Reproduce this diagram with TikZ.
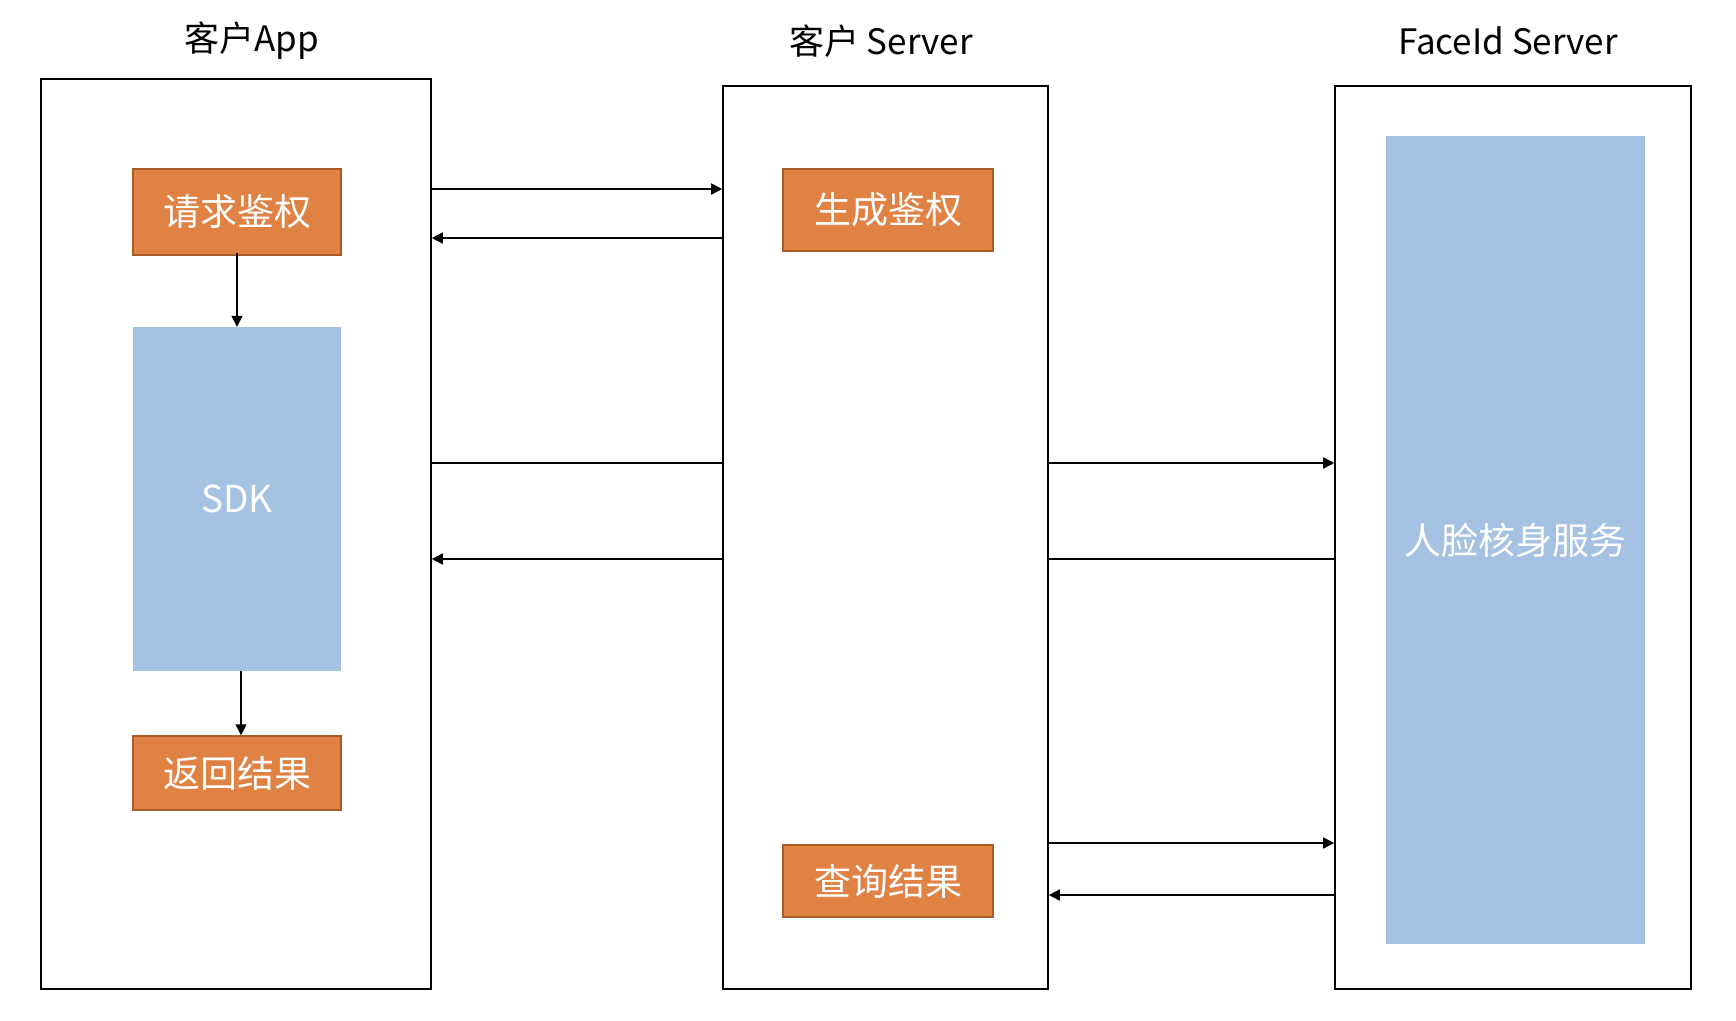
\documentclass[tikz,border=0pt]{standalone}
\usepackage{fontspec}
\setmainfont{Noto Sans CJK SC}
\usetikzlibrary{arrows.meta}
\definecolor{boxorange}{RGB}{224,130,68}
\definecolor{boxedge}{RGB}{170,92,40}
\definecolor{boxblue}{RGB}{165,194,226}
\begin{document}
\begin{tikzpicture}[x=1pt,y=-1pt,
  every node/.style={inner sep=0pt},
  lane/.style={draw, line width=1.6pt, fill=white},
  title/.style={font=\fontsize{35}{35}\selectfont},
  stepbox/.style={draw=boxedge, line width=1.5pt, fill=boxorange, text=white, font=\fontsize{37}{37}\selectfont},
  service/.style={fill=boxblue, text=white, font=\fontsize{37}{37}\selectfont},
  msg/.style={line width=1.6pt, -{Triangle[length=11pt,width=11pt]}},
  wire/.style={line width=1.6pt}]
\useasboundingbox (0,0) rectangle (1736,1020);
% columns
\node[lane, minimum width=390pt, minimum height=910pt] (app) at (236,534) {};
\node[lane, minimum width=325pt, minimum height=903pt] (srv) at (885.5,537.5) {};
\node[lane, minimum width=356pt, minimum height=903pt] (fid) at (1513,537.5) {};
\node[title] (tapp) at (252,41) {客户App};
\node[title] (tsrv) at (881,41) {客户 Server};
\node[title] (tfid) at (1508,41) {FaceId Server};
% boxes
\node[stepbox, minimum width=208pt, minimum height=86pt] (req) at (237,212) {请求鉴权};
\node[service, minimum width=208pt, minimum height=344pt] (sdk) at (237,499) {SDK};
\node[stepbox, minimum width=208pt, minimum height=74pt] (ret) at (237,773) {返回结果};
\node[stepbox, minimum width=210pt, minimum height=82pt] (gen) at (888,210) {生成鉴权};
\node[stepbox, minimum width=210pt, minimum height=72pt] (qry) at (888,881) {查询结果};
\node[service, minimum width=259pt, minimum height=808pt] (face) at (1515.5,540) {人脸核身服务};
% message levels
\coordinate (m1) at (0,189);
\coordinate (m2) at (0,238);
\coordinate (m3) at (0,463);
\coordinate (m4) at (0,559);
\coordinate (m5) at (0,843);
\coordinate (m6) at (0,895);
% app <-> server
\draw[msg] (app.east |- m1) -- (srv.west |- m1);
\draw[msg] (srv.west |- m2) -- (app.east |- m2);
\draw[wire] (app.east |- m3) -- (srv.west |- m3);
\draw[msg] (srv.west |- m4) -- (app.east |- m4);
% server <-> faceid
\draw[msg] (srv.east |- m3) -- (fid.west |- m3);
\draw[wire] (fid.west |- m4) -- (srv.east |- m4);
\draw[msg] (srv.east |- m5) -- (fid.west |- m5);
\draw[msg] (fid.west |- m6) -- (srv.east |- m6);
% inside app
\draw[msg] ([yshift=3pt]req.south) -- (sdk.north);
\draw[msg] ([xshift=4pt]sdk.south) -- ([xshift=4pt]ret.north);
\end{tikzpicture}
\end{document}
